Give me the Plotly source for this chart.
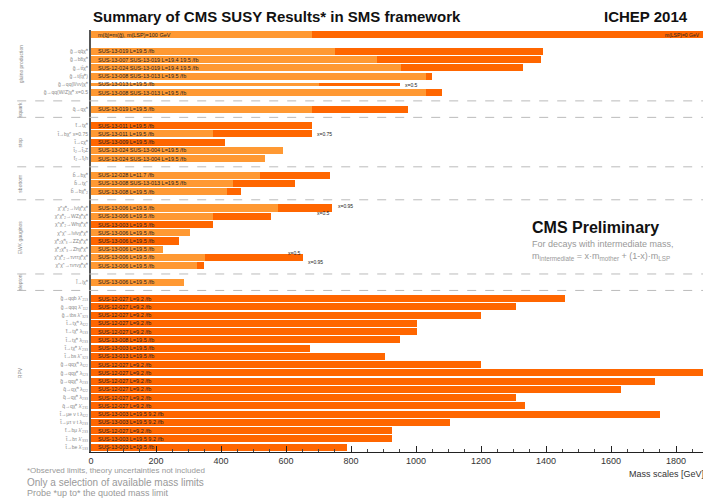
import plotly.graph_objects as go

# rows of the summary, top to bottom (an empty row leaves a blank slot)
sections = ["gluino production"] * 8 + ["squark"] + ["stop"] * 5 + ["sbottom"] * 3 \
    + ["EWK gauginos"] * 8 + ["slepton"] + ["RPV"] * 19

processes = [
    "", "",
    "g̃→qq̄χ̃⁰", "g̃→bb̄χ̃⁰", "g̃→tt̄χ̃⁰", "g̃→t(t̄χ̃⁰)", "g̃→qq(ll/νν)χ̃⁰", "g̃→qq(W/Z)χ̃⁰ x=0.5",
    "q̃→qχ̃⁰",
    "t̃→tχ̃⁰", "t̃→bχ̃⁺ x=0.75", "t̃→cχ̃⁰", "t̃₂→t̃₁Z", "t̃₂→t̃₁h",
    "b̃→bχ̃⁰", "b̃→tχ̃⁻", "b̃→bχ̃⁰₂",
    "χ̃⁺χ̃⁰₂→lνlχ̃⁰χ̃⁰", "χ̃⁺χ̃⁰₂→WZχ̃⁰χ̃⁰", "χ̃⁺χ̃⁰₂→Whχ̃⁰χ̃⁰", "χ̃⁺χ̃⁻→lνlνχ̃⁰χ̃⁰",
    "χ̃⁰₂χ̃⁰₃→ZZχ̃⁰χ̃⁰", "χ̃⁰₂χ̃⁰₃→Zhχ̃⁰χ̃⁰", "χ̃⁺χ̃⁰₂→τνττχ̃⁰χ̃⁰", "χ̃⁺χ̃⁻→τντνχ̃⁰χ̃⁰",
    "l̃→lχ̃⁰",
    "g̃→qqb λ''₂₁₃", "g̃→qqq λ''₁₁₂", "g̃→tbs λ''₃₂₃", "t̃→tχ̃⁰ λ₁₂₂", "t̃→tχ̃⁰ λ₁₃₃",
    "t̃→tχ̃⁰ λ₂₃₃", "t̃→tχ̃⁰ λ'₂₃₃", "t̃→bs λ''₃₂₃", "g̃→qqχ̃⁰ λ₁₂₂", "g̃→qqχ̃⁰ λ₁₂₃",
    "g̃→qqχ̃⁰ λ₂₃₃", "q̃→qχ̃⁰ λ₁₂₂", "q̃→qχ̃⁰ λ₂₃₃", "q̃→qχ̃⁰ λ'₂₃₁", "t̃→μe ν t λ₁₂₂",
    "t̃→μτ ν t λ₂₃₃", "t̃→bμ λ'₂₃₃", "t̃→bτ λ'₃₃₃", "t̃→be λ'₁₃₃",
]

papers = [
    "m(q̃)=m(g̃), m(LSP)=100 GeV", "",
    "SUS-13-019 L=19.5 /fb", "SUS-13-007 SUS-13-019 L=19.4 19.5 /fb",
    "SUS-12-024 SUS-13-019 L=19.4 19.5 /fb", "SUS-13-008 SUS-13-013 L=19.5 /fb",
    "SUS-13-013 L=19.5 /fb", "SUS-13-008 SUS-13-013 L=19.5 /fb",
    "SUS-13-019 L=19.5 /fb",
    "SUS-13-011 L=19.5 /fb", "SUS-13-011 L=19.5 /fb", "SUS-13-009 L=19.5 /fb",
    "SUS-13-024 SUS-13-004 L=19.5 /fb", "SUS-13-024 SUS-13-004 L=19.5 /fb",
    "SUS-12-028 L=11.7 /fb", "SUS-13-008 SUS-13-013 L=19.5 /fb", "SUS-13-008 L=19.5 /fb",
    "SUS-13-006 L=19.5 /fb", "SUS-13-006 L=19.5 /fb", "SUS-13-003 L=19.5 /fb",
    "SUS-13-006 L=19.5 /fb", "SUS-13-006 L=19.5 /fb", "SUS-13-006 L=19.5 /fb",
    "SUS-13-006 L=19.5 /fb", "SUS-13-006 L=19.5 /fb",
    "SUS-13-006 L=19.5 /fb",
    "SUS-12-027 L=9.2 /fb", "SUS-12-027 L=9.2 /fb", "SUS-12-027 L=9.2 /fb",
    "SUS-12-027 L=9.2 /fb", "SUS-12-027 L=9.2 /fb", "SUS-13-008 L=19.5 /fb",
    "SUS-13-003 L=19.5 /fb", "SUS-13-013 L=19.5 /fb", "SUS-12-027 L=9.2 /fb",
    "SUS-12-027 L=9.2 /fb", "SUS-12-027 L=9.2 /fb", "SUS-12-027 L=9.2 /fb",
    "SUS-12-027 L=9.2 /fb", "SUS-12-027 L=9.2 /fb", "SUS-13-003 L=19.5 9.2 /fb",
    "SUS-13-003 L=19.5 9.2 /fb", "SUS-12-027 L=9.2 /fb", "SUS-13-003 L=19.5 9.2 /fb",
    "SUS-13-003 L=19.5 /fb",
]

# mass limits in GeV: light = higher LSP mass, dark = light LSP
lim_light = [680, None, 750, 880, 955, 1030, 700, 1030, 680,
             None, 375, None, 590, 535,
             520, 437, 418,
             575, 375, None, 305, None, 222, 351, 326,
             286] + [None] * 19
lim_dark = [1900, None, 1390, 1385, 1330, 1050, 950, 1080, 975,
            680, 680, 412, None, None,
            735, 628, 462,
            742, 554, 375, None, 271, None, 652, 348,
            None,
            1458, 1308, 1200, 1003, 1003, 951, 674, 905, 1200, 1900,
            1735, 1631, 1308, 1335, 1751, 1105, 926, 926, 788]

x_ticks = [0, 200, 400, 600, 800, 1000, 1200, 1400, 1600, 1800]

# slot of every row, with one extra slot for each dashed separator
ypos, seps, prev, slot = [], [], sections[0], 0
for sec in sections:
    if sec != prev:
        seps.append(slot)
        slot += 1
        prev = sec
    ypos.append(slot)
    slot += 1

widths = [0.3 if p.startswith("g̃→qq(ll") else 0.86 for p in processes]
DARK = "#ff6600"
LIGHT = "#ff9933"

fig = go.Figure()
fig.add_trace(go.Bar(y=ypos, x=lim_dark, orientation="h", width=widths,
                     marker=dict(color=DARK, line=dict(width=0)), showlegend=False))
fig.add_trace(go.Bar(y=ypos, x=lim_light, orientation="h", width=widths,
                     marker=dict(color=LIGHT, line=dict(width=0)), showlegend=False))

for y, txt in zip(ypos, papers):
    if txt:
        fig.add_annotation(x=15, y=y, text=txt, showarrow=False, xanchor="left",
                           font=dict(size=5.5, color="#222", family="Liberation Sans"))

fig.add_annotation(x=1880, y=ypos[0], text="m(LSP)=0 GeV", showarrow=False, xanchor="right",
                   font=dict(size=5, color="#222", family="Liberation Sans"))

# small "x=" notes next to some bars
for y_i, x_val, txt, dy in [(6, 960, "x=0.5", 0.1), (10, 690, "x=0.75", 0),
                            (17, 755, "x=0.95", -0.2), (17, 690, "x=0.5", 0.6),
                            (23, 600, "x=0.5", -0.5), (23, 660, "x=0.95", 0.5)]:
    fig.add_annotation(x=x_val, y=ypos[y_i] + dy, text=txt, showarrow=False, xanchor="left",
                       font=dict(size=5, color="#222", family="Liberation Sans"))

for s in seps:
    fig.add_shape(type="line", xref="paper", yref="y", x0=-0.12, x1=1, y0=s, y1=s,
                  line=dict(color="#bbbbbb", width=1, dash="dash"))

for sec in dict.fromkeys(sections):
    ys = [y for y, s in zip(ypos, sections) if s == sec]
    fig.add_annotation(xref="paper", x=-0.123, y=(min(ys) + max(ys)) / 2, text=sec,
                       textangle=-90, showarrow=False,
                       font=dict(size=5, color="#888", family="Liberation Sans"))

paper_txt = [
    (0, 1.031, "left", "<b>Summary of CMS SUSY Results* in SMS framework</b>", 15, "#111"),
    (0.974, 1.031, "right", "<b>ICHEP 2014</b>", 15, "#111"),
    (0.714, 0.531, "left", "<b>CMS Preliminary</b>", 16, "#111"),
    (0.714, 0.493, "left", "For decays with intermediate mass,", 9, "#999"),
    (0.714, 0.464, "left", "m<sub>intermediate</sub> = x·m<sub>mother</sub> + (1-x)·m<sub>LSP</sub>", 9, "#999"),
    (-0.107, -0.045, "left", "*Observed limits, theory uncertainties not included", 8, "#999"),
    (-0.107, -0.073, "left", "Only a selection of available mass limits", 10, "#999"),
    (-0.107, -0.098, "left", "Probe *up to* the quoted mass limit", 9, "#999"),
    (1.0, -0.052, "right", "Mass scales [GeV]", 9, "#333"),
]
for px, py, anchor, txt, size, col in paper_txt:
    fig.add_annotation(xref="paper", yref="paper", x=px, y=py, text=txt, showarrow=False,
                       xanchor=anchor, yanchor="middle",
                       font=dict(size=size, color=col, family="Liberation Sans"))

# page body has an 8px margin, so the figure is shrunk to fit the window
fig.update_layout(
    width=703, height=490,
    margin=dict(l=83, r=5, t=22, b=46),
    plot_bgcolor="white", paper_bgcolor="white",
    barmode="overlay", bargap=0,
    xaxis=dict(range=[0, 1892], tickvals=x_ticks, ticks="inside", ticklen=6,
               tickcolor="#222", showgrid=False, zeroline=False, automargin=False,
               showline=True, linecolor="#222", linewidth=1,
               minor=dict(dtick=50, ticks="inside", ticklen=3, tickcolor="#444"),
               tickfont=dict(size=9, color="#333", family="Liberation Sans")),
    yaxis=dict(range=[slot - 0.4, -0.6], tickvals=ypos, ticktext=processes,
               showgrid=False, zeroline=False, showline=True, linecolor="#555",
               linewidth=2, ticks="", automargin=False,
               tickfont=dict(size=5, color="#888", family="Liberation Sans")),
)

fig.write_html("out.html")
